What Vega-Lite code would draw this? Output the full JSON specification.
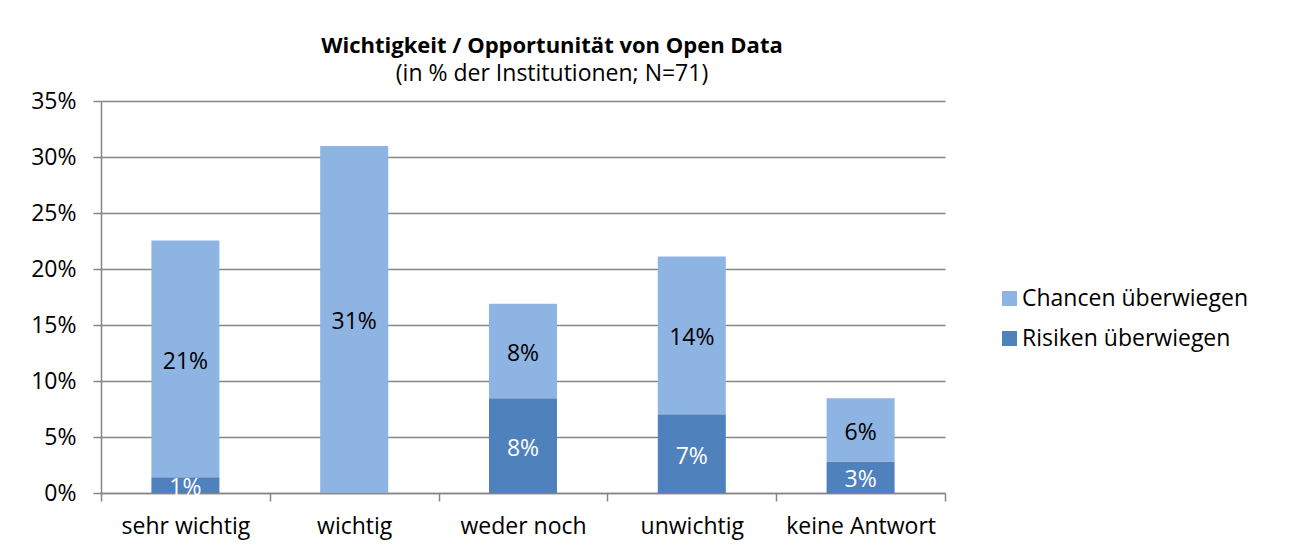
{
  "$schema": "https://vega.github.io/schema/vega-lite/v6.json",
  "autosize": {"type": "none"},
  "width": 844,
  "height": 392,
  "padding": {"left": 101, "top": 101, "right": 363, "bottom": 60},
  "background": "white",
  "title": {
    "text": "Wichtigkeit / Opportunität von Open Data",
    "subtitle": "(in % der Institutionen; N=71)",
    "font": "Open Sans",
    "fontSize": 22,
    "fontWeight": "bold",
    "color": "#000000",
    "subtitleFont": "Open Sans",
    "subtitleFontSize": 23,
    "subtitleColor": "#000000",
    "subtitlePadding": 5,
    "anchor": "middle",
    "dx": 29,
    "offset": 3
  },
  "data": {
    "values": [
      {"category": "sehr wichtig", "series": "Risiken überwiegen", "value": 0.0141},
      {"category": "sehr wichtig", "series": "Chancen überwiegen", "value": 0.2113},
      {"category": "wichtig", "series": "Chancen überwiegen", "value": 0.3099},
      {"category": "weder noch", "series": "Risiken überwiegen", "value": 0.0845},
      {"category": "weder noch", "series": "Chancen überwiegen", "value": 0.0845},
      {"category": "unwichtig", "series": "Risiken überwiegen", "value": 0.0704},
      {"category": "unwichtig", "series": "Chancen überwiegen", "value": 0.1408},
      {"category": "keine Antwort", "series": "Risiken überwiegen", "value": 0.0282},
      {"category": "keine Antwort", "series": "Chancen überwiegen", "value": 0.0563}
    ]
  },
  "encoding": {
    "x": {
      "field": "category",
      "type": "nominal",
      "sort": ["sehr wichtig", "wichtig", "weder noch", "unwichtig", "keine Antwort"],
      "scale": {"paddingInner": 0, "paddingOuter": 0},
      "axis": {
        "title": null,
        "labelAngle": 0,
        "tickBand": "extent",
        "labelFont": "Open Sans",
        "labelFontSize": 23,
        "labelColor": "#000000",
        "labelPadding": 14,
        "domainColor": "#868686",
        "tickColor": "#868686",
        "tickSize": 8,
        "domainWidth": 1.5,
        "tickWidth": 1.5,
        "grid": false
      }
    },
    "order": {"field": "series", "sort": "descending"}
  },
  "layer": [
    {
      "mark": {"type": "bar", "width": {"band": 0.403}},
      "encoding": {
        "y": {
          "field": "value",
          "type": "quantitative",
          "stack": "zero",
          "scale": {"domain": [0, 0.35], "nice": false},
          "axis": {
            "title": null,
            "values": [0, 0.05, 0.1, 0.15, 0.2, 0.25, 0.3, 0.35],
            "format": ".0%",
            "labelFont": "Open Sans",
            "labelFontSize": 23,
            "labelColor": "#000000",
            "labelPadding": 17,
            "domainColor": "#868686",
            "domainWidth": 1.5,
            "tickColor": "#868686",
            "tickWidth": 1.5,
            "tickSize": 8,
            "gridColor": "#868686",
            "gridWidth": 1.5
          }
        },
        "color": {
          "field": "series",
          "type": "nominal",
          "scale": {"domain": ["Chancen überwiegen", "Risiken überwiegen"], "range": ["#8EB4E3", "#4F81BD"]},
          "legend": {
            "title": null,
            "orient": "none",
            "legendX": 897,
            "legendY": 186,
            "padding": 0,
            "symbolType": "square",
            "symbolSize": 225,
            "symbolStrokeWidth": 0,
            "labelFont": "Open Sans",
            "labelFontSize": 23,
            "labelColor": "#000000",
            "labelOffset": 1,
            "labelLimit": 400,
            "rowPadding": 16
          }
        }
      }
    },
    {
      "mark": {"type": "text", "font": "Open Sans", "fontSize": 23, "baseline": "middle", "align": "center", "dy": 3},
      "encoding": {
        "y": {"field": "value", "type": "quantitative", "stack": "zero", "bandPosition": 0.5},
        "detail": {"field": "series", "type": "nominal"},
        "text": {"field": "value", "type": "quantitative", "format": ".0%"},
        "color": {
          "condition": {"test": "datum.series === 'Risiken überwiegen'", "value": "#FFFFFF"},
          "value": "#000000"
        }
      }
    }
  ],
  "config": {"view": {"stroke": null}}
}
